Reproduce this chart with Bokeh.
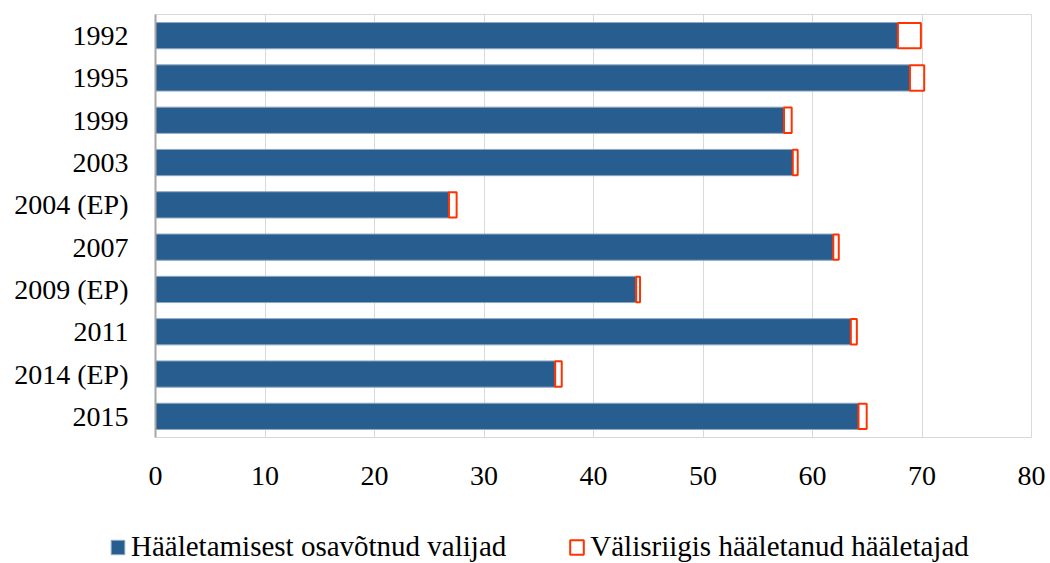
from bokeh.plotting import figure
from bokeh.layouts import column
from bokeh.models import ColumnDataSource, FactorRange, Legend, LegendItem, FixedTicker, Range1d
from bokeh.embed import file_html
from bokeh.resources import INLINE

years = ["1992", "1995", "1999", "2003", "2004 (EP)", "2007", "2009 (EP)", "2011", "2014 (EP)", "2015"]
domestic = [67.8, 68.9, 57.4, 58.2, 26.8, 61.9, 43.9, 63.5, 36.5, 64.2]
abroad = [2.1, 1.3, 0.7, 0.45, 0.7, 0.5, 0.35, 0.55, 0.6, 0.75]
series_names = ["Hääletamisest osavõtnud valijad", "Välisriigis hääletanud hääletajad"]
x_ticks = [0, 10, 20, 30, 40, 50, 60, 70, 80]

BLUE = "#285E8F"
RED = "#FF3300"
FONT = "Liberation Serif"

src = ColumnDataSource(dict(
    year=years,
    domestic=domestic,
    abroad=abroad,
    total=[d + a for d, a in zip(domestic, abroad)],
))

p = figure(
    width=1050, height=521,
    y_range=FactorRange(factors=list(reversed(years))),
    x_range=Range1d(0, 80),
    output_backend="svg", toolbar_location=None,
    min_border_left=155, min_border_right=19, min_border_top=14, min_border_bottom=84,
)
p.frame_align = False

blue_style = dict(fill_color=BLUE, line_color="#8FA8C2", line_width=1)
red_style = dict(fill_color="white", line_color=RED, line_width=2)

p.hbar(y="year", left=0, right="domestic", height=0.62, source=src, **blue_style)
p.hbar(y="year", left="domestic", right="total", height=0.6, source=src, **red_style)

p.outline_line_color = "#D9D9D9"
p.outline_line_width = 1
p.ygrid.grid_line_color = None
p.xgrid.grid_line_color = "#D9D9D9"
p.xgrid.ticker = FixedTicker(ticks=x_ticks)

p.xaxis.ticker = FixedTicker(ticks=x_ticks)
p.xaxis.axis_line_color = None
p.xaxis.major_tick_line_color = None
p.xaxis.minor_tick_line_color = None
p.xaxis.major_tick_out = 0
p.xaxis.minor_tick_out = 0
p.xaxis.major_label_standoff = 29
p.xaxis.major_label_text_font = FONT
p.xaxis.major_label_text_font_size = "28px"
p.xaxis.major_label_text_color = "black"

p.yaxis.axis_line_color = "#A6A6A6"
p.yaxis.axis_line_width = 2
p.yaxis.major_tick_line_color = None
p.yaxis.minor_tick_line_color = None
p.yaxis.major_tick_out = 0
p.yaxis.minor_tick_out = 0
p.yaxis.major_label_standoff = 27
p.yaxis.major_label_text_font = FONT
p.yaxis.major_label_text_font_size = "28px"
p.yaxis.major_label_text_color = "black"

# legend strip below the chart
lg = figure(
    width=1050, height=42,
    x_range=Range1d(0, 1), y_range=Range1d(0, 1),
    x_axis_type=None, y_axis_type=None,
    output_backend="svg", toolbar_location=None,
    min_border_left=0, min_border_right=0, min_border_top=0, min_border_bottom=0,
)
lg.frame_align = False
lg.outline_line_color = None
lg.grid.visible = False
dummy = ColumnDataSource(dict(y=[float("nan")], left=[float("nan")], right=[float("nan")]))
lr1 = lg.hbar(y="y", left="left", right="right", height=0.5, source=dummy, **blue_style)
lr2 = lg.hbar(y="y", left="left", right="right", height=0.5, source=dummy, **red_style)

legend = Legend(
    items=[LegendItem(label=series_names[0], renderers=[lr1]),
           LegendItem(label=series_names[1], renderers=[lr2])],
    orientation="horizontal",
    location=(109, 0),
    glyph_width=17, glyph_height=18,
    label_standoff=5,
    spacing=62,
    padding=0, margin=0,
    border_line_color=None,
    background_fill_alpha=0,
    label_text_font=FONT,
    label_text_font_size="29px",
    label_text_color="black",
)
lg.add_layout(legend, "center")

open("out.html", "w").write(file_html(column(p, lg, spacing=0), INLINE))
